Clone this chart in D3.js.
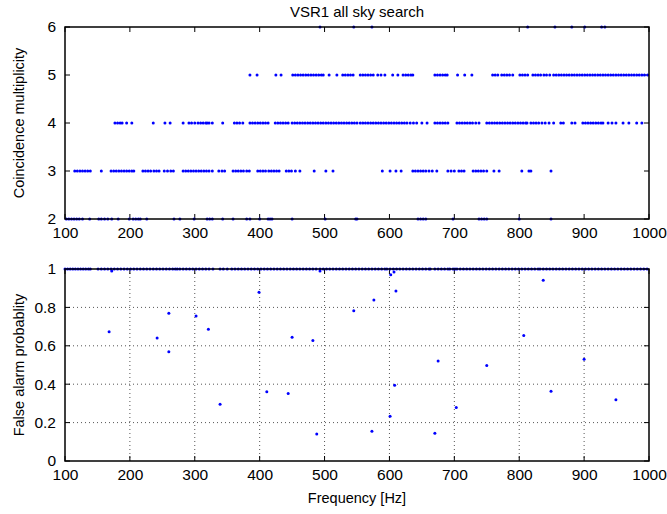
<!DOCTYPE html>
<html><head><meta charset="utf-8">
<script src="https://cdn.jsdelivr.net/npm/d3@7"></script>
<style>body{margin:0;background:#fff}svg{display:block}text{font-family:"Liberation Sans",Arial,sans-serif;fill:#000}</style>
</head><body>
<script>
// ---- data ----
const title = "VSR1 all sky search";
const xLabel = "Frequency [Hz]";
const yLabelTop = "Coincidence multiplicity";
const yLabelBottom = "False alarm probablity";
const xTicks = [100,200,300,400,500,600,700,800,900,1000];
const yTicksTop = [2,3,4,5,6];
const yTicksBottom = [0,0.2,0.4,0.6,0.8,1];

const mult2 = [102,106,110,114,118,122,127,138,152,156,161,166,172,182,199,205,209,213,216,226,268,277,299,319,323,327,343,359,380,385,400,413,416,419,450,501,548,550,644,648,652,656,698,738,742,746,750,800,849];
const mult3 = [115,119,123,127,131,135,139,156,171,175,179,183,187,191,195,199,203,206,220,224,228,232,237,241,245,253,258,263,267,282,286,290,294,298,302,306,310,314,318,322,327,337,342,346,359,363,367,371,375,380,384,397,401,405,409,414,418,422,426,430,441,445,449,455,462,484,502,513,589,601,610,618,636,640,644,648,652,656,661,666,673,690,695,700,707,711,715,729,733,737,741,745,750,761,769,804,815,818,849];
const mult4 = [177,181,185,188,195,203,236,254,262,282,291,295,300,305,309,313,317,319,322,327,343,361,365,369,374,385,389,393,397,401,405,409,413,424,428,432,436,440,444,450,454,458,462,466,470,474,478,482,486,490,494,498,502,506,510,514,518,522,526,530,534,538,542,546,550,555,559,563,567,571,575,579,583,587,591,595,599,603,607,611,615,619,623,627,632,637,642,650,658,670,674,678,682,686,690,704,708,712,716,720,724,728,733,738,750,754,758,762,766,770,774,778,782,786,790,794,798,802,806,810,812,818,822,826,830,835,840,846,853,864,868,881,886,898,902,906,910,914,918,922,926,929,937,943,949,960,969,981,989];
const mult5 = [385,396,425,433,451,455,459,463,467,471,475,479,483,487,491,495,498,507,519,528,532,536,540,544,555,559,563,567,571,575,582,587,593,605,613,621,625,629,633,636,670,674,678,682,686,689,705,716,727,759,763,767,773,777,781,785,790,801,805,809,813,821,825,829,833,838,842,847,853,857,861,865,869,873,877,881,885,889,893,897,901,905,909,913,917,921,925,929,933,937,941,945,949,953,957,961,965,969,973,977,981,985,989,993,998];
const mult6 = [493,545,573,813,855,881,901,927,932];

const fapOneFreq = [100,104,108,112,116,120,124,128,132,136,139,151,156,161,166,171,176,181,186,191,196,201,206,211,216,221,226,231,236,241,246,251,256,261,266,270,273,277,282,287,292,297,302,307,312,317,322,328,339,344,350,357,362,367,372,377,382,387,392,397,402,407,412,417,422,427,432,437,442,447,452,457,462,467,472,477,482,487,493,498,503,508,513,518,523,528,533,538,543,548,553,558,563,568,573,578,583,588,593,596,601,606,611,616,621,626,631,636,641,646,651,656,661,663,670,675,680,685,690,693,698,701,704,709,714,719,724,729,734,739,744,749,754,759,764,769,774,779,784,789,794,799,804,809,814,819,824,829,832,837,842,847,852,857,862,867,872,877,882,887,892,897,902,907,912,917,922,927,932,937,942,947,952,957,962,967,972,977,982,987,992,997];
const fapFreq = [168,242,260,260,302,321,399,450,482,545,576,610,807,837,675,750,900,339,411,444,488,573,601,608,670,703,849,949,172,493,602,607];
const fapVal  = [0.673,0.641,0.769,0.569,0.755,0.686,0.879,0.644,0.627,0.783,0.839,0.885,0.653,0.941,0.521,0.497,0.530,0.295,0.361,0.352,0.141,0.155,0.233,0.394,0.144,0.278,0.363,0.319,0.99,0.99,0.97,0.984];

// ---- drawing ----
const W = 667, H = 514;
const L = 65, R = 649;
const top1 = 27, bot1 = 219, top2 = 269, bot2 = 461;
const blue = "#0000ff", r = 1.5;
const tickFont = 15.5;

const svg = d3.select("body").append("svg").attr("width", W).attr("height", H);
const x = d3.scaleLinear().domain([100,1000]).range([L,R]);
const y1 = d3.scaleLinear().domain([2,6]).range([bot1,top1]);
const y2 = d3.scaleLinear().domain([0,1]).range([bot2,top2]);

svg.append("text").attr("x", 357).attr("y", 17).attr("text-anchor","middle").attr("font-size", 15).text(title);

function panel(y, yTicks, fmt, grid) {
  const [b, t] = y.range();
  const g = svg.append("g");
  if (grid) {
    g.selectAll(".gx").data(xTicks.slice(1,-1)).join("line")
      .attr("x1", d=>x(d)).attr("x2", d=>x(d)).attr("y1", t).attr("y2", b)
      .attr("stroke","#555").attr("stroke-width",1).attr("stroke-dasharray","1,3");
    g.selectAll(".gy").data(yTicks.slice(1,-1)).join("line")
      .attr("y1", d=>y(d)).attr("y2", d=>y(d)).attr("x1", L).attr("x2", R)
      .attr("stroke","#555").attr("stroke-width",1).attr("stroke-dasharray","1,3");
  }
  const ax = g.append("g").attr("transform", `translate(0,${b})`)
    .call(d3.axisBottom(x).tickValues(xTicks).tickSize(0).tickPadding(8).tickFormat(d3.format("d")));
  ax.select(".domain").remove();
  ax.selectAll("text").attr("font-size", tickFont).attr("font-family","Liberation Sans, Arial, sans-serif");
  const ay = g.append("g").attr("transform", `translate(${L},0)`)
    .call(d3.axisLeft(y).tickValues(yTicks).tickSize(0).tickPadding(9).tickFormat(fmt));
  ay.select(".domain").remove();
  ay.selectAll("text").attr("font-size", tickFont).attr("font-family","Liberation Sans, Arial, sans-serif");
  const tl = 5;
  g.selectAll(".tb").data(xTicks).join("line").attr("x1",d=>x(d)).attr("x2",d=>x(d)).attr("y1",b).attr("y2",b-tl).attr("stroke","#000");
  g.selectAll(".tt").data(xTicks).join("line").attr("x1",d=>x(d)).attr("x2",d=>x(d)).attr("y1",t).attr("y2",t+tl).attr("stroke","#000");
  g.selectAll(".tlft").data(yTicks).join("line").attr("y1",d=>y(d)).attr("y2",d=>y(d)).attr("x1",L).attr("x2",L+tl).attr("stroke","#000");
  g.selectAll(".trt").data(yTicks).join("line").attr("y1",d=>y(d)).attr("y2",d=>y(d)).attr("x1",R).attr("x2",R-tl).attr("stroke","#000");
  return g;
}
panel(y1, yTicksTop, d3.format("d"), false);
panel(y2, yTicksBottom, d=> d===0||d===1 ? String(d) : d3.format(".1f")(d), true);

const topPts = [].concat(
  mult2.map(f=>[f,2]), mult3.map(f=>[f,3]), mult4.map(f=>[f,4]), mult5.map(f=>[f,5]), mult6.map(f=>[f,6]));
svg.append("g").selectAll("circle").data(topPts).join("circle")
  .attr("cx", d=>x(d[0])).attr("cy", d=>y1(d[1])).attr("r", r).attr("fill", blue);

const botPts = fapOneFreq.map(f=>[f,1]).concat(fapFreq.map((f,i)=>[f,fapVal[i]]));
svg.append("g").selectAll("circle").data(botPts).join("circle")
  .attr("cx", d=>x(d[0])).attr("cy", d=>y2(d[1])).attr("r", r).attr("fill", blue);

[[top1,bot1],[top2,bot2]].forEach(([t,b])=>{
  svg.append("rect").attr("x",L).attr("y",t).attr("width",R-L).attr("height",b-t)
    .attr("fill","none").attr("stroke","#000").attr("stroke-width",1.5);
});

svg.append("text").attr("transform",`translate(24,${(top1+bot1)/2}) rotate(-90)`).attr("text-anchor","middle").attr("font-size",14.5).text(yLabelTop);
svg.append("text").attr("transform",`translate(24,${(top2+bot2)/2}) rotate(-90)`).attr("text-anchor","middle").attr("font-size",14.5).text(yLabelBottom);
svg.append("text").attr("x",357).attr("y",503).attr("text-anchor","middle").attr("font-size",14.5).text(xLabel);
</script>
</body></html>
